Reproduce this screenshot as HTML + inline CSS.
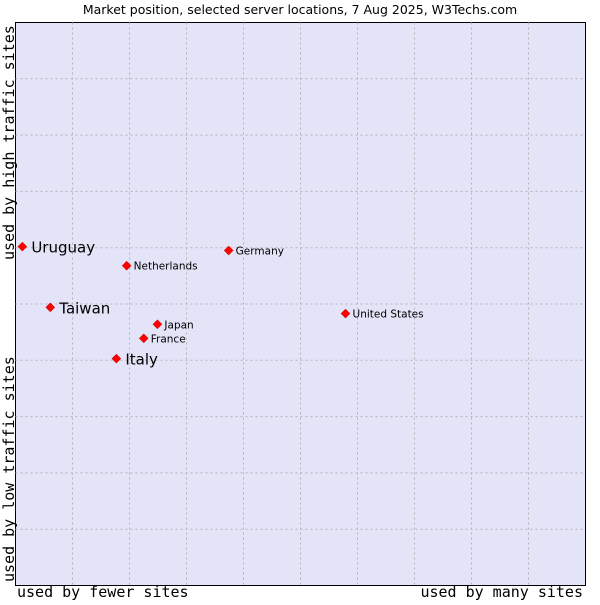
<!DOCTYPE html>
<html><head><meta charset="utf-8"><style>
body{margin:0;background:#fff;width:600px;height:600px;overflow:hidden}
svg text{font-family:"DejaVu Sans",sans-serif}
</style></head><body>
<svg id="c" width="600" height="600">
<text x="300" y="14" text-anchor="middle" font-size="12.5" fill="#000">Market position, selected server locations, 7 Aug 2025, W3Techs.com</text>
<rect x="15.5" y="22.5" width="570" height="563" fill="#e3e4f8" stroke="#000" stroke-width="1"/>
<g id="grid"></g>
<text transform="translate(14,260) rotate(-90)" font-size="15" style="font-family:'DejaVu Sans Mono',monospace">used by high traffic sites</text>
<text transform="translate(14,582) rotate(-90)" font-size="15" style="font-family:'DejaVu Sans Mono',monospace">used by low traffic sites</text>
<text x="17" y="597" font-size="15" style="font-family:'DejaVu Sans Mono',monospace">used by fewer sites</text>
<text x="583" y="597" text-anchor="end" font-size="15" style="font-family:'DejaVu Sans Mono',monospace">used by many sites</text>
<g id="pts"></g>
</svg>
<script>
const names=["Uruguay","Taiwan","Italy","Netherlands","Germany","Japan","France","United States"];
const xVals=[1.2,6.1,17.7,19.5,37.4,24.9,22.5,57.9];
const yVals=[60.2,49.4,40.3,56.8,59.5,46.4,43.9,48.3];
const big=[true,true,true,false,false,false,false,false];
const NS="http://www.w3.org/2000/svg";
const L=15.5,T=22.5,W=570,H=563;
const sx=v=>L+v/100*W, sy=v=>T+H-v/100*H;
const g=document.getElementById('grid');
for(let i=1;i<10;i++){
 const a=document.createElementNS(NS,'line');
 a.setAttribute('x1',sx(i*10));a.setAttribute('x2',sx(i*10));a.setAttribute('y1',T);a.setAttribute('y2',T+H);
 a.setAttribute('stroke','#b4b4b4');a.setAttribute('stroke-dasharray','2,3');
 
 
 g.appendChild(a);
 const b=document.createElementNS(NS,'line');
 b.setAttribute('y1',sy(i*10));b.setAttribute('y2',sy(i*10));b.setAttribute('x1',L);b.setAttribute('x2',L+W);
 b.setAttribute('stroke','#b4b4b4');b.setAttribute('stroke-dasharray','2,3');
 
 
 g.appendChild(b);
}
const p=document.getElementById('pts');
names.forEach((n,i)=>{
 const x=sx(xVals[i]),y=sy(yVals[i]);
 const d=document.createElementNS(NS,'path');
 d.setAttribute('d',`M${x},${y-4.5}L${x+4.5},${y}L${x},${y+4.5}L${x-4.5},${y}Z`);
 d.setAttribute('fill','#f00');d.setAttribute('stroke','#b00');d.setAttribute('stroke-width','0.5');
 
 
 p.appendChild(d);
 const t=document.createElementNS(NS,'text');
 t.setAttribute('x',x+(big[i]?9:7));t.setAttribute('y',y+(big[i]?6:4));
 t.setAttribute('font-size',big[i]?'15':'10.5');
 t.textContent=n;
 
 
 p.appendChild(t);
});
</script>
</body></html>
